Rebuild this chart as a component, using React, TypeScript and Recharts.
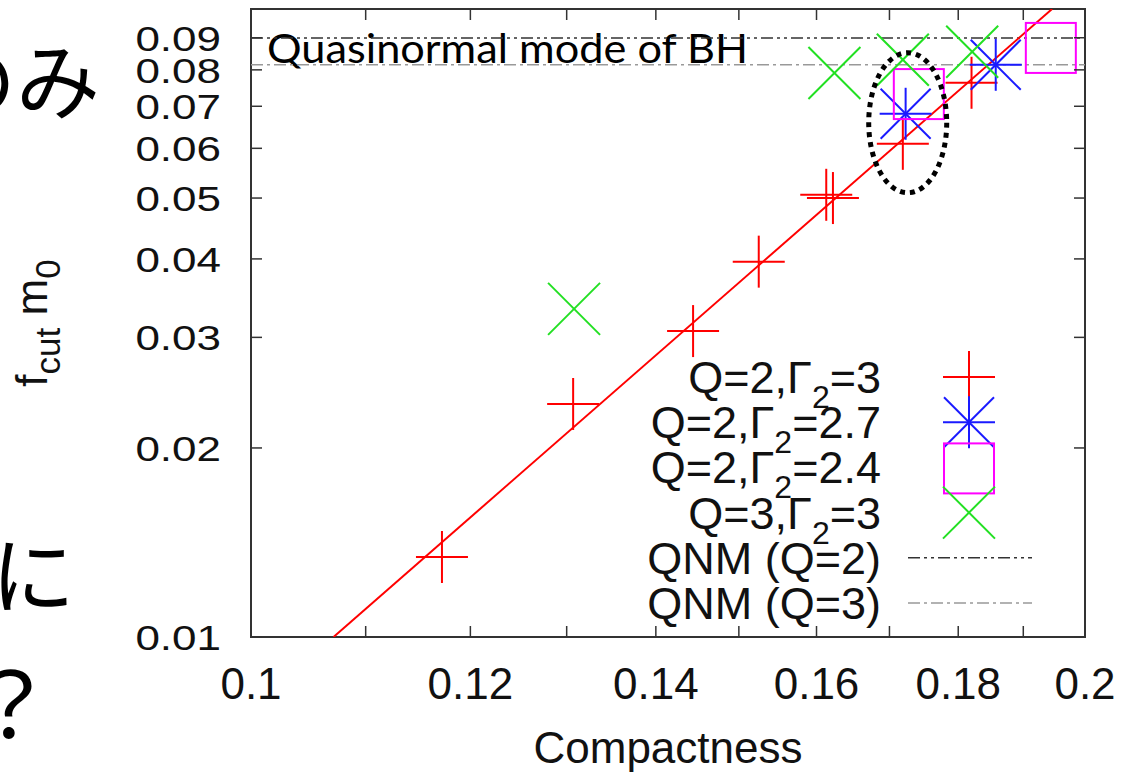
import React from "react";
import { ScatterChart, Scatter, XAxis, YAxis, ReferenceLine, ReferenceArea, Customized } from "recharts";

const W = 1137;
const H = 773;
// plot frame in page pixels (gnuplot style box)
const PLOT = { left: 251, top: 9, right: 1085, bottom: 637 };

const xTicks = [0.1, 0.11, 0.12, 0.13, 0.14, 0.15, 0.16, 0.17, 0.18, 0.19, 0.2];
const xTickLabels = ["0.1", "0.12", "0.14", "0.16", "0.18", "0.2"];
const yTicks = [0.01, 0.02, 0.03, 0.04, 0.05, 0.06, 0.07, 0.08, 0.09];

// Q=2, Gamma2=3
const q2g3 = [
  { x: 0.1172, y: 0.01341 },
  { x: 0.1307, y: 0.0235 },
  { x: 0.1444, y: 0.0307 },
  { x: 0.1525, y: 0.0396 },
  { x: 0.1613, y: 0.0506 },
  { x: 0.1622, y: 0.05 },
  { x: 0.1719, y: 0.061 },
  { x: 0.182, y: 0.0763 },
];
// Q=2, Gamma2=2.7
const q2g27 = [
  { x: 0.1723, y: 0.0681 },
  { x: 0.1857, y: 0.0815 },
];
// Q=2, Gamma2=2.4
const q2g24 = [
  { x: 0.1742, y: 0.0732 },
  { x: 0.1944, y: 0.0867 },
];
// Q=3, Gamma2=3
const q3g3 = [
  { x: 0.1308, y: 0.0333 },
  { x: 0.1624, y: 0.0791 },
  { x: 0.1719, y: 0.083 },
  { x: 0.1821, y: 0.0855 },
];
// red power-law fit
const fitLine = [
  { x: 0.1071, y: 0.01 },
  { x: 0.1946, y: 0.1 },
];
const qnmQ2 = 0.0899;
const qnmQ3 = 0.0815;
const circled = [{ x: 0.1726, y: 0.0659 }];

const legendNames = ["Q=2,Γ_2=3", "Q=2,Γ_2=2.7", "Q=2,Γ_2=2.4", "Q=3,Γ_2=3", "QNM (Q=2)", "QNM (Q=3)"];

const RED = "#ff0000";
const BLUE = "#1a1aff";
const MAGENTA = "#ff00ff";
const GREEN = "#22e022";
const QNM2 = "#333333";
const QNM3 = "#999999";
const AXIS = "#333333";
const SANS = "'Liberation Sans', Arial, sans-serif";

const Plus = ({ cx, cy, color }: any) => (
  <g stroke={color} strokeWidth={2}>
    <line x1={cx - 26} y1={cy} x2={cx + 26} y2={cy} />
    <line x1={cx} y1={cy - 26} x2={cx} y2={cy + 26} />
  </g>
);
const Cross = ({ cx, cy, color }: any) => (
  <g stroke={color} strokeWidth={2}>
    <line x1={cx - 26} y1={cy - 26} x2={cx + 26} y2={cy + 26} />
    <line x1={cx - 26} y1={cy + 26} x2={cx + 26} y2={cy - 26} />
  </g>
);
const Star = ({ cx, cy, color }: any) => (
  <g>
    <Plus cx={cx} cy={cy} color={color} />
    <g stroke={color} strokeWidth={2}>
      <line x1={cx - 25} y1={cy - 25} x2={cx + 25} y2={cy + 25} />
      <line x1={cx - 25} y1={cy + 25} x2={cx + 25} y2={cy - 25} />
    </g>
  </g>
);
const Box = ({ cx, cy, color }: any) => (
  <rect x={cx - 25} y={cy - 25} width={50} height={50} fill="none" stroke={color} strokeWidth={2} />
);

const XTick = (props: any) => {
  const { x, payload } = props;
  const label = xTickLabels.find((l) => Math.abs(parseFloat(l) - payload.value) < 1e-9);
  return (
    <g>
      <line x1={x} y1={PLOT.bottom} x2={x} y2={PLOT.bottom - 11} stroke={AXIS} strokeWidth={1.5} />
      <line x1={x} y1={PLOT.top} x2={x} y2={PLOT.top + 11} stroke={AXIS} strokeWidth={1.5} />
      {label && (
        <text x={x} y={PLOT.bottom + 62} textAnchor="middle" fontSize={44} fontFamily={SANS} fill="#111">
          {label}
        </text>
      )}
    </g>
  );
};

const YTick = (props: any) => {
  const { y, payload } = props;
  return (
    <g>
      <line x1={PLOT.left} y1={y} x2={PLOT.left + 11} y2={y} stroke={AXIS} strokeWidth={1.5} />
      <line x1={PLOT.right - 11} y1={y} x2={PLOT.right} y2={y} stroke={AXIS} strokeWidth={1.5} />
      <text
        transform={`translate(${PLOT.left - 30},${y}) scale(1,0.8)`}
        x={0}
        y={16}
        textAnchor="end"
        fontSize={44}
        fontFamily={SANS}
        fill="#111"
      >
        {payload.value.toFixed(2)}
      </text>
    </g>
  );
};

// text with "_x" subscripts
const SubText = ({ text, x, y, size, subSize, shift, anchor }: any) => {
  const parts = text.split(/_(.)/);
  const out: any[] = [];
  parts.forEach((p: string, i: number) => {
    if (i % 2 === 1) {
      out.push(<tspan key={i} fontSize={subSize} dy={shift}>{p}</tspan>);
    } else if (p) {
      out.push(<tspan key={i} dy={i > 0 ? -shift : 0}>{p}</tspan>);
    }
  });
  return (
    <text x={x} y={y} textAnchor={anchor} fontSize={size} fontFamily={SANS} fill="#111">
      {out}
    </text>
  );
};

const legendSymbols = [
  (cx: number, cy: number) => <Plus cx={cx} cy={cy} color={RED} />,
  (cx: number, cy: number) => <Star cx={cx} cy={cy} color={BLUE} />,
  (cx: number, cy: number) => <Box cx={cx} cy={cy + 1} color={MAGENTA} />,
  (cx: number, cy: number) => <Cross cx={cx} cy={cy} color={GREEN} />,
  (cx: number, cy: number) => (
    <line x1={908} y1={cy} x2={1032} y2={cy} stroke={QNM2} strokeWidth={1.5} strokeDasharray="12 4 3 4 3 4" />
  ),
  (cx: number, cy: number) => (
    <line x1={908} y1={cy} x2={1032} y2={cy} stroke={QNM3} strokeWidth={1.5} strokeDasharray="12 4 3 4" />
  ),
];

const Overlay = () => (
  <g>
    {/* slide text cut off on the left */}
    <text x={-68} y={113} fontSize={84} fontFamily="'Noto Sans CJK JP'" fill="#000">のみ</text>
    <text x={-9} y={607} fontSize={84} fontFamily="'Noto Sans CJK JP'" fill="#000">に</text>
    <text x={-35} y={738} fontSize={90} fontFamily="'Noto Sans CJK JP'" fill="#000">？</text>

    <text x={267} y={63} fontSize={40} fontFamily="Lato, 'Open Sans', sans-serif" fill="#000" textLength={481} lengthAdjust="spacingAndGlyphs">
      Quasinormal mode of BH
    </text>

    <text transform="translate(47,323) rotate(-90)" textAnchor="middle" fontSize={44} fontFamily={SANS} fill="#111">
      f<tspan fontSize={35} dy={13}>cut</tspan>
      <tspan dy={-13}> m</tspan>
      <tspan fontSize={35} dy={13}>0</tspan>
    </text>
    <text x={668} y={763} textAnchor="middle" fontSize={44} fontFamily={SANS} fill="#111">
      Compactness
    </text>

    {legendNames.map((name, i) => {
      const cy = 377 + i * 45.2;
      return (
        <g key={name}>
          <SubText text={name} x={881} y={cy + 16} size={45} subSize={32} shift={15} anchor="end" />
          {legendSymbols[i](969, cy)}
        </g>
      );
    })}
  </g>
);

export default function App() {
  return (
    <div style={{ position: "absolute", left: 0, top: 0, width: W, height: H, background: "#fff" }}>
      <ScatterChart width={W} height={H} margin={{ top: 9, right: 52, bottom: 76, left: 191 }}>
        <XAxis
          dataKey="x"
          type="number"
          scale="log"
          domain={[0.1, 0.2]}
          allowDataOverflow
          ticks={xTicks}
          interval={0}
          height={60}
          tickSize={0}
          tickMargin={0}
          axisLine={false}
          tickLine={false}
          tick={<XTick />}
        />
        <YAxis
          dataKey="y"
          type="number"
          scale="log"
          domain={[0.01, 0.1]}
          allowDataOverflow
          ticks={yTicks}
          interval={0}
          width={60}
          tickSize={0}
          tickMargin={0}
          axisLine={false}
          tickLine={false}
          tick={<YTick />}
        />
        <ReferenceArea x1={0.1} x2={0.2} y1={0.01} y2={0.1} fill="none" stroke={AXIS} strokeWidth={2} fillOpacity={0} />
        <ReferenceLine y={qnmQ2} stroke={QNM2} strokeWidth={1.5} strokeDasharray="12 4 3 4 3 4" />
        <ReferenceLine y={qnmQ3} stroke={QNM3} strokeWidth={1.5} strokeDasharray="12 4 3 4" />
        <Scatter data={fitLine} line={{ stroke: RED, strokeWidth: 2 }} shape={() => <g />} isAnimationActive={false} />
        <Scatter data={q2g3} shape={(p: any) => <Plus cx={p.cx} cy={p.cy} color={RED} />} isAnimationActive={false} />
        <Scatter data={q2g27} shape={(p: any) => <Star cx={p.cx} cy={p.cy} color={BLUE} />} isAnimationActive={false} />
        <Scatter data={q2g24} shape={(p: any) => <Box cx={p.cx} cy={p.cy} color={MAGENTA} />} isAnimationActive={false} />
        <Scatter data={q3g3} shape={(p: any) => <Cross cx={p.cx} cy={p.cy} color={GREEN} />} isAnimationActive={false} />
        <Scatter
          data={circled}
          shape={(p: any) => (
            <ellipse cx={p.cx} cy={p.cy} rx={39} ry={70} fill="none" stroke="#000" strokeWidth={5} strokeDasharray="5 5" />
          )}
          isAnimationActive={false}
        />
        <Customized component={Overlay} />
      </ScatterChart>
    </div>
  );
}
